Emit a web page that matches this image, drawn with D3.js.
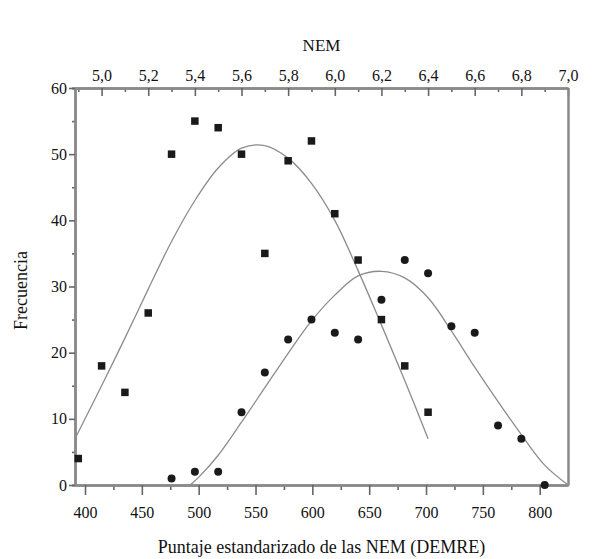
<!DOCTYPE html>
<html>
<head>
<meta charset="utf-8">
<script src="https://cdn.jsdelivr.net/npm/d3@7/dist/d3.min.js"></script>
<style>
  html, body { margin: 0; padding: 0; background: #fff; }
  svg { display: block; }
  text { font-family: "Liberation Serif", "DejaVu Serif", serif; fill: #111; }
</style>
</head>
<body>
<svg id="chart" width="596" height="559"></svg>
<script>
// ---- data ----
// Point x positions are NEM grades (top axis)
const nemA = [4.9, 5.0, 5.1, 5.2, 5.3, 5.4, 5.5, 5.6, 5.7, 5.8, 5.9, 6.0, 6.1, 6.2, 6.3, 6.4];
const freqA = [4, 18, 14, 26, 50, 55, 54, 50, 35, 49, 52, 41, 34, 25, 18, 11];

const nemB = [5.3, 5.4, 5.5, 5.6, 5.7, 5.8, 5.9, 6.0, 6.1, 6.2, 6.3, 6.4, 6.5, 6.6, 6.7, 6.8, 6.9];
const freqB = [1, 2, 2, 11, 17, 22, 25, 23, 22, 28, 34, 32, 24, 23, 9, 7, 0];

// Fitted curves
const curveANem = [4.886, 5.0, 5.1, 5.2, 5.3, 5.4, 5.5, 5.6, 5.7, 5.8, 5.9, 6.0, 6.1, 6.2, 6.3, 6.4];
const curveAVal = [7, 15.0, 22.2, 29.6, 36.8, 43.0, 47.9, 50.9, 51.3, 49.4, 45.6, 40.0, 32.4, 24.2, 15.8, 7];

const curveBNem = [5.38, 5.42, 5.5, 5.6, 5.7, 5.8, 5.9, 6.0, 6.1, 6.2, 6.3, 6.4, 6.5, 6.6, 6.7, 6.8, 6.9, 7.0];
const curveBVal = [0, 1.3, 4.5, 9.5, 14.7, 19.9, 24.8, 28.7, 31.6, 32.3, 31.3, 28.3, 23.3, 17.8, 12.6, 7.6, 3, 0];

// Tick values
const yTicks = [0, 10, 20, 30, 40, 50, 60];
const yMinor = [5, 15, 25, 35, 45, 55];
const scoreTicks = [400, 450, 500, 550, 600, 650, 700, 750, 800];
const scoreMinor = [425, 475, 525, 575, 625, 675, 725, 775];
const nemTicks = [5.0, 5.2, 5.4, 5.6, 5.8, 6.0, 6.2, 6.4, 6.6, 6.8, 7.0];
const nemMinor = [4.9, 5.1, 5.3, 5.5, 5.7, 5.9, 6.1, 6.3, 6.5, 6.7, 6.9];

const xTitleTop = "NEM";
const xTitleBottom = "Puntaje estandarizado de las NEM (DEMRE)";
const yTitle = "Frecuencia";

// ---- layout ----
const W = 596, H = 559;
const m = { left: 75, right: 28, top: 88, bottom: 74 };
const iw = W - m.left - m.right, ih = H - m.top - m.bottom;

const svg = d3.select("#chart");
const g = svg.append("g").attr("transform", `translate(${m.left},${m.top})`);

const xNem = d3.scaleLinear().domain([4.886, 7.0]).range([0, iw]);
const xScore = d3.scaleLinear().domain([391.2, 824.9]).range([0, iw]);
const y = d3.scaleLinear().domain([0, 60]).range([ih, 0]);

const axisColor = "#8a8a8a";
function styleAxis(sel) {
  sel.select(".domain").attr("stroke", axisColor).attr("stroke-width", 2.5);
  sel.selectAll(".tick line").attr("stroke", "#666").attr("stroke-width", 1.6);
  sel.selectAll(".tick text").style("font-size", "16px").attr("fill", "#111");
}

// Left axis
g.append("g").call(d3.axisLeft(y).tickValues(yMinor).tickSize(3).tickFormat(""))
  .call(styleAxis);
g.append("g").call(d3.axisLeft(y).tickValues(yTicks).tickSize(6).tickPadding(2).tickSizeOuter(0))
  .call(styleAxis);

// Bottom axis
g.append("g").attr("transform", `translate(0,${ih})`)
  .call(d3.axisBottom(xScore).tickValues(scoreMinor).tickSize(5).tickFormat("").tickSizeOuter(0))
  .call(styleAxis);
g.append("g").attr("transform", `translate(0,${ih})`)
  .call(d3.axisBottom(xScore).tickValues(scoreTicks).tickSize(10).tickPadding(12).tickSizeOuter(0))
  .call(styleAxis);

// Top axis (ticks inward)
g.append("g")
  .call(d3.axisTop(xNem).tickValues(nemMinor).tickSize(-4).tickFormat("").tickSizeOuter(0))
  .call(styleAxis);
g.append("g")
  .call(d3.axisTop(xNem).tickValues(nemTicks).tickSize(-8).tickPadding(7).tickSizeOuter(0)
    .tickFormat(d => d3.format(".1f")(d).replace(".", ",")))
  .call(styleAxis);

// Right axis (line only)
g.append("g").attr("transform", `translate(${iw},0)`)
  .call(d3.axisRight(y).tickValues([]).tickSizeOuter(0))
  .call(styleAxis);

// Curves
const line = d3.line().curve(d3.curveCatmullRom.alpha(0.5)).x(d => xNem(d[0])).y(d => y(d[1]));
g.append("path").datum(d3.zip(curveANem, curveAVal))
  .attr("d", line).attr("fill", "none").attr("stroke", "#8c8c8c").attr("stroke-width", 1.3);
g.append("path").datum(d3.zip(curveBNem, curveBVal))
  .attr("d", line).attr("fill", "none").attr("stroke", "#8c8c8c").attr("stroke-width", 1.3);

// Points
const sq = 7.5;
g.append("g").selectAll("rect").data(d3.zip(nemA, freqA)).join("rect")
  .attr("x", d => xNem(d[0]) - sq / 2).attr("y", d => y(d[1]) - sq / 2)
  .attr("width", sq).attr("height", sq).attr("fill", "#1a1a1a");
g.append("g").selectAll("circle").data(d3.zip(nemB, freqB)).join("circle")
  .attr("cx", d => xNem(d[0])).attr("cy", d => y(d[1])).attr("r", 4).attr("fill", "#1a1a1a");

// Titles
svg.append("text").attr("x", m.left + iw / 2).attr("y", 51).attr("text-anchor", "middle")
  .style("font-size", "17px").text(xTitleTop);
svg.append("text").attr("x", m.left + iw / 2).attr("y", 553).attr("text-anchor", "middle")
  .style("font-size", "18px").text(xTitleBottom);
svg.append("text").attr("transform", `translate(27,${m.top + ih / 2 + 4}) rotate(-90)`)
  .attr("text-anchor", "middle").style("font-size", "18px").text(yTitle);
</script>
</body>
</html>
